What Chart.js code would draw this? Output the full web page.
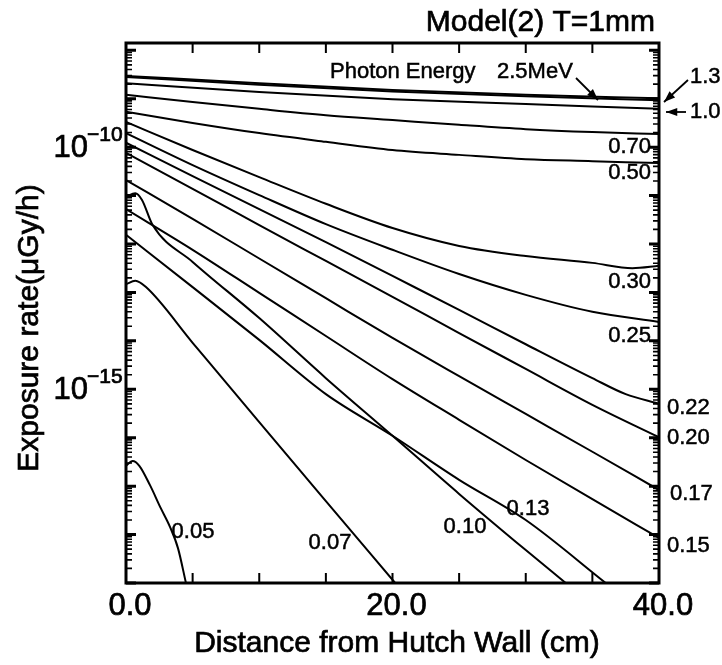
<!DOCTYPE html>
<html>
<head>
<meta charset="utf-8">
<script src="https://cdn.jsdelivr.net/npm/chart.js@4.4.0/dist/chart.umd.min.js"></script>
<style>
  body { margin: 0; background: #fff; }
  #wrap { width: 722px; height: 665px; }
</style>
</head>
<body>
<div id="wrap"><canvas id="rateChart" width="722" height="665"></canvas></div>
<script>
// Values: distance (cm) and log10 of exposure rate
const x25 = [0, 10, 20, 30, 40];
const e25 = [-8.53, -8.68, -8.82, -8.92, -8.99];
const e13 = [-8.55, -8.71, -8.85, -8.95, -9.03];
const e10 = [-8.68, -8.86, -9.01, -9.11, -9.21];

const x5 = [0, 5, 10, 15, 20, 25, 30, 35, 40];
const e070 = [-8.92, -9.07, -9.21, -9.34, -9.44, -9.54, -9.63, -9.69, -9.73];
const e050 = [-9.27, -9.50, -9.71, -9.89, -10.06, -10.16, -10.25, -10.29, -10.33];
const e025 = [-9.71, -10.37, -10.99, -11.59, -12.12, -12.62, -13.05, -13.40, -13.61];
const e020 = [-10.12, -10.86, -11.61, -12.35, -13.09, -13.84, -14.58, -15.32, -15.99];
const e017 = [-10.68, -11.48, -12.30, -13.12, -13.94, -14.73, -15.51, -16.29, -17.08];
const e015 = [-11.28, -12.12, -13.01, -13.90, -14.79, -15.63, -16.46, -17.27, -18.07];

const x030 = [0, 5, 10, 15, 20, 25, 30, 35, 38, 40];
const e030 = [-9.48, -10.06, -10.62, -11.17, -11.67, -12.04, -12.25, -12.39, -12.50, -12.45];

const x022 = [0, 5, 10, 15, 20, 25, 30, 35, 37.5, 40];
const e022 = [-9.91, -10.60, -11.28, -11.96, -12.66, -13.36, -14.07, -14.77, -15.10, -15.30];

const x013 = [0, 5, 10, 15, 20, 25, 30, 36];
const e013 = [-11.81, -12.89, -13.98, -15.10, -15.96, -16.87, -17.70, -19.00];

const x010 = [0, 0.7, 1.2, 2, 5, 10, 15, 20, 25, 30, 33];
const e010 = [-11.03, -10.95, -11.09, -11.61, -12.37, -13.53, -14.77, -15.96, -17.16, -18.32, -19.00];

const x007 = [0, 0.7, 1.5, 5, 10, 15, 20.2];
const e007 = [-12.83, -12.76, -12.89, -14.04, -15.68, -17.31, -19.00];

const x005 = [0, 0.5, 1, 1.8, 2.6, 3.3, 3.9, 4.5];
const e005 = [-16.58, -16.48, -16.58, -16.98, -17.45, -17.84, -18.28, -19.00];

const series = [
    ['2.5', x25, e25], ['1.3', x25, e13], ['1.0', x25, e10],
    ['0.70', x5, e070], ['0.50', x5, e050], ['0.30', x030, e030],
    ['0.25', x5, e025], ['0.22', x022, e022], ['0.20', x5, e020],
    ['0.17', x5, e017], ['0.15', x5, e015], ['0.13', x013, e013],
    ['0.10', x010, e010], ['0.07', x007, e007], ['0.05', x005, e005]
];

const yTickExps = [-10, -15];
const xTickLabels = ['0.0', '20.0', '40.0'];

const FONT = "'Liberation Sans', Arial, sans-serif";

// curve labels: text, x, y, align
const curveLabels = [
    ['0.70', 651, 147, 'right'],
    ['0.50', 651, 173, 'right'],
    ['0.30', 651, 282, 'right'],
    ['0.25', 651, 336, 'right'],
    ['0.22', 667, 408, 'left'],
    ['0.20', 667, 438, 'left'],
    ['0.17', 670, 494, 'left'],
    ['0.15', 667, 546, 'left'],
    ['0.05', 193, 532, 'center'],
    ['0.07', 330, 543, 'center'],
    ['0.10', 465, 527, 'center'],
    ['0.13', 528, 509, 'center'],
    ['Photon Energy', 330, 72, 'left'],
    ['2.5MeV', 497, 72, 'left'],
    ['1.3', 690, 77, 'left'],
    ['1.0', 690, 112, 'left']
];

function arrow(ctx, x1, y1, x2, y2) {
    const a = Math.atan2(y2 - y1, x2 - x1);
    ctx.beginPath();
    ctx.moveTo(x1, y1);
    ctx.lineTo(x2, y2);
    ctx.stroke();
    ctx.beginPath();
    ctx.moveTo(x2, y2);
    ctx.lineTo(x2 - 12 * Math.cos(a - 0.35), y2 - 12 * Math.sin(a - 0.35));
    ctx.lineTo(x2 - 12 * Math.cos(a + 0.35), y2 - 12 * Math.sin(a + 0.35));
    ctx.closePath();
    ctx.fill();
}

// heavier text, a bit like the scanned original
function inkText(ctx, t, x, y) {
    ctx.fillText(t, x, y);
    ctx.strokeText(t, x, y);
}

const framePlugin = {
    id: 'frame',
    afterDraw(chart) {
        const ctx = chart.ctx;
        const area = chart.chartArea;
        const xs = chart.scales.x;
        const ys = chart.scales.y;
        ctx.save();
        ctx.strokeStyle = '#000';
        ctx.fillStyle = '#000';

        // frame
        ctx.lineWidth = 3;
        ctx.strokeRect(area.left, area.top, area.right - area.left, area.bottom - area.top);

        // x ticks, inward, top and bottom
        ctx.lineWidth = 2;
        for (let v = 5; v < 40; v += 5) {
            const px = xs.getPixelForValue(v);
            ctx.beginPath();
            ctx.moveTo(px, area.bottom); ctx.lineTo(px, area.bottom - 10);
            ctx.moveTo(px, area.top); ctx.lineTo(px, area.top + 10);
            ctx.stroke();
        }

        // y ticks, inward, left and right
        for (let e = -19; e <= -8; e++) {
            for (let k = 1; k <= 9; k++) {
                const v = k * Math.pow(10, e);
                if (v < ys.min || v > ys.max) continue;
                const py = ys.getPixelForValue(v);
                const len = k === 1 ? 10 : 6;
                ctx.lineWidth = k === 1 ? 3 : 1.6;
                ctx.beginPath();
                ctx.moveTo(area.left, py); ctx.lineTo(area.left + len, py);
                ctx.moveTo(area.right, py); ctx.lineTo(area.right - len, py);
                ctx.stroke();
            }
        }

        ctx.lineWidth = 0.7;

        // y tick labels with superscript exponent
        yTickExps.forEach(e => {
            const py = ys.getPixelForValue(Math.pow(10, e));
            ctx.font = '31px ' + FONT;
            ctx.textAlign = 'right';
            ctx.textBaseline = 'middle';
            inkText(ctx, '10', 88, py + 1);
            ctx.font = '21px ' + FONT;
            ctx.textAlign = 'left';
            ctx.textBaseline = 'alphabetic';
            inkText(ctx, '\u2212' + Math.abs(e), 87, py - 6);
        });

        // x tick labels
        ctx.font = '31px ' + FONT;
        ctx.textAlign = 'center';
        ctx.textBaseline = 'middle';
        xTickLabels.forEach((t, i) => {
            inkText(ctx, t, xs.getPixelForValue(i * 20) + 4, area.bottom + 23);
        });

        // y axis title
        ctx.save();
        ctx.translate(30, 328);
        ctx.rotate(-Math.PI / 2);
        ctx.font = '30px ' + FONT;
        ctx.textAlign = 'center';
        ctx.textBaseline = 'middle';
        inkText(ctx, 'Exposure rate(\u03bcGy/h)', 0, 0);
        ctx.restore();

        // x axis title
        ctx.font = '30px ' + FONT;
        ctx.textAlign = 'center';
        ctx.textBaseline = 'middle';
        inkText(ctx, 'Distance from Hutch Wall (cm)', 397, 644);

        // title
        ctx.font = '30px ' + FONT;
        ctx.textAlign = 'right';
        inkText(ctx, 'Model(2) T=1mm', 655, 23);

        // curve labels
        ctx.font = '22px ' + FONT;
        ctx.lineWidth = 0.5;
        curveLabels.forEach(([t, x, y, al]) => {
            ctx.textAlign = al;
            inkText(ctx, t, x, y);
        });

        ctx.lineWidth = 1.8;
        arrow(ctx, 576, 78, 598, 100);
        arrow(ctx, 688, 80, 664, 102);
        arrow(ctx, 686, 112, 666, 112);

        ctx.restore();
    }
};

const ctx = document.getElementById('rateChart').getContext('2d');
new Chart(ctx, {
    type: 'line',
    data: {
        datasets: series.map(([name, xs, es]) => ({
            label: name,
            data: xs.map((x, i) => ({ x: x, y: Math.pow(10, es[i]) })),
            borderColor: '#000',
            borderWidth: 2,
            pointRadius: 0,
            fill: false,
            cubicInterpolationMode: 'monotone'
        }))
    },
    options: {
        responsive: false,
        animation: false,
        devicePixelRatio: 1,
        layout: { padding: { top: 43, right: 63, left: 0, bottom: 0 } },
        plugins: {
            legend: { display: false },
            tooltip: { enabled: false }
        },
        scales: {
            x: {
                type: 'linear',
                min: 0,
                max: 40,
                afterFit: s => { s.height = 82; },
                grid: { display: false, drawTicks: false },
                border: { display: false },
                ticks: { display: false, stepSize: 5 }
            },
            y: {
                type: 'logarithmic',
                min: 1e-19,
                max: 1.4125e-8,
                afterFit: s => { s.width = 126; },
                grid: { display: false, drawTicks: false },
                border: { display: false },
                ticks: { display: false }
            }
        }
    },
    plugins: [framePlugin]
});
</script>
</body>
</html>
